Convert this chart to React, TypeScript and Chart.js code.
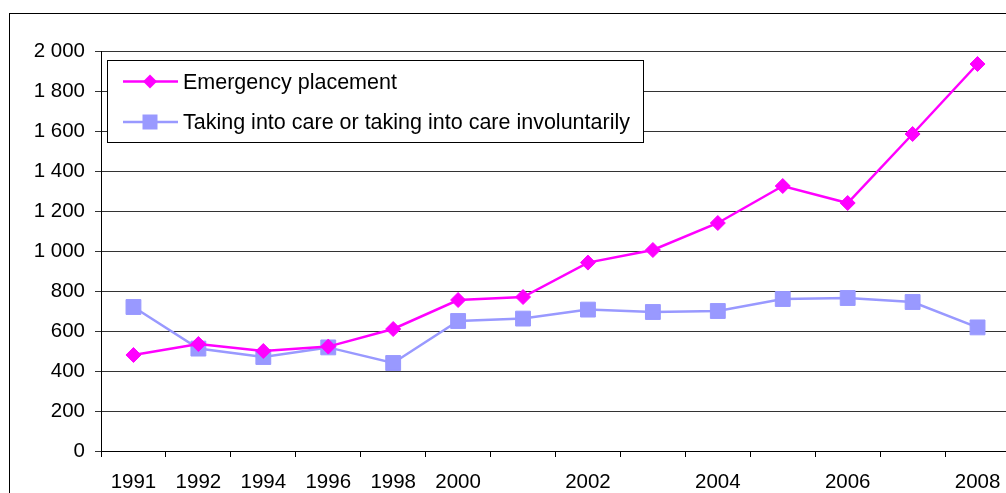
import React, { useEffect, useRef } from "react";
import { Chart, registerables } from "chart.js";

Chart.register(...registerables);

const categories = ["1991", "1992", "1994", "1996", "1998", "2000", "2001", "2002", "2003", "2004", "2005", "2006", "2007", "2008"];
const tickLabels = ["1991", "1992", "1994", "1996", "1998", "2000", "", "2002", "", "2004", "", "2006", "", "2008"];
const emergencyPlacement = [480, 535, 500, 522, 610, 755, 770, 942, 1005, 1140, 1325, 1240, 1585, 1935];
const takingIntoCare = [720, 512, 470, 518, 440, 650, 662, 707, 695, 700, 760, 765, 745, 618];
const yTicks = [0, 200, 400, 600, 800, 1000, 1200, 1400, 1600, 1800, 2000];
const seriesNames = ["Emergency placement", "Taking into care or taking into care involuntarily"];

const MAGENTA = "#FF00FF";
const LAVENDER = "#9999FF";
const FONT = "'Liberation Sans', Arial, sans-serif";

const legendPlugin = {
  id: "insideLegend",
  afterDraw(chart: any) {
    const ctx = chart.ctx;
    const left = 107.5, top = 60.5, w = 536, h = 82;
    ctx.save();
    ctx.fillStyle = "#ffffff";
    ctx.fillRect(left, top, w, h);
    ctx.strokeStyle = "#000000";
    ctx.lineWidth = 1;
    ctx.strokeRect(left, top, w, h);
    const rows = [
      { y: 81.5, color: MAGENTA, diamond: true },
      { y: 122, color: LAVENDER, diamond: false },
    ];
    rows.forEach((r, i) => {
      ctx.strokeStyle = r.color;
      ctx.lineWidth = 2.5;
      ctx.beginPath();
      ctx.moveTo(123, r.y);
      ctx.lineTo(178, r.y);
      ctx.stroke();
      ctx.fillStyle = r.color;
      ctx.beginPath();
      const cx = 150;
      if (r.diamond) {
        const d = 7;
        ctx.moveTo(cx - d, r.y);
        ctx.lineTo(cx, r.y - d);
        ctx.lineTo(cx + d, r.y);
        ctx.lineTo(cx, r.y + d);
        ctx.closePath();
      } else {
        const s = 7.5;
        ctx.rect(cx - s, r.y - s, 2 * s, 2 * s);
      }
      ctx.fill();
      ctx.fillStyle = "#000000";
      ctx.font = `21.5px ${FONT}`;
      ctx.textBaseline = "middle";
      ctx.textAlign = "left";
      ctx.fillText(seriesNames[i], 183, r.y + 1.5);
    });
    ctx.restore();
  },
};

export default function App() {
  const ref = useRef<HTMLCanvasElement | null>(null);
  useEffect(() => {
    if (!ref.current) return;
    const chart = new Chart(ref.current, {
      type: "line",
      data: {
        labels: categories,
        datasets: [
          {
            label: seriesNames[0],
            data: emergencyPlacement,
            borderColor: MAGENTA,
            backgroundColor: MAGENTA,
            borderWidth: 2.5,
            pointStyle: "rectRot",
            pointRadius: 7.5,
            pointBorderWidth: 1,
            pointBorderColor: MAGENTA,
            pointBackgroundColor: MAGENTA,
            tension: 0,
          },
          {
            label: seriesNames[1],
            data: takingIntoCare,
            borderColor: LAVENDER,
            backgroundColor: LAVENDER,
            borderWidth: 2.5,
            pointStyle: "rect",
            pointRadius: 10.5,
            pointBorderWidth: 1,
            pointBorderColor: LAVENDER,
            pointBackgroundColor: LAVENDER,
            tension: 0,
          },
        ],
      },
      options: {
        responsive: false,
        animation: false,
        devicePixelRatio: 1,
        layout: { padding: { left: 0, top: 51, right: 20, bottom: 0 } },
        plugins: { legend: { display: false }, tooltip: { enabled: false }, title: { display: false } },
        scales: {
          x: {
            type: "category",
            offset: true,
            grid: { offset: true, drawOnChartArea: false, drawTicks: true, tickLength: 6, color: "#000000" },
            border: { display: true, color: "#000000", width: 1 },
            ticks: {
              autoSkip: false,
              maxRotation: 0,
              minRotation: 0,
              padding: 13,
              color: "#000000",
              font: { family: FONT, size: 20.5 },
              callback: (_v: any, i: number) => tickLabels[i],
            },
            afterFit: (s: any) => { s.height = 42; },
          },
          y: {
            min: 0,
            max: 2000,
            afterBuildTicks: (s: any) => { s.ticks = yTicks.map((v) => ({ value: v })); },
            grid: { color: "#333333", tickLength: 6, drawTicks: true },
            border: { display: true, color: "#000000", width: 1 },
            ticks: {
              padding: 10,
              color: "#000000",
              font: { family: FONT, size: 20.5 },
              callback: (v: any) => {
                const n = Number(v);
                return n >= 1000 ? `${Math.floor(n / 1000)} ${String(n % 1000).padStart(3, "0")}` : String(n);
              },
            },
            afterFit: (s: any) => { s.width = 101; },
          },
        },
      },
      plugins: [legendPlugin],
    });
    return () => chart.destroy();
  }, []);

  return (
    <div style={{ position: "fixed", left: 0, top: 0, width: 1006, height: 493, overflow: "hidden", background: "#fff" }}>
      <div style={{ position: "absolute", left: 9, top: 13, width: 1100, height: 600, border: "1px solid #000", boxSizing: "border-box" }} />
      <canvas ref={ref} width={1030} height={493} style={{ position: "absolute", left: 0, top: 0, width: 1030, height: 493 }} />
    </div>
  );
}
